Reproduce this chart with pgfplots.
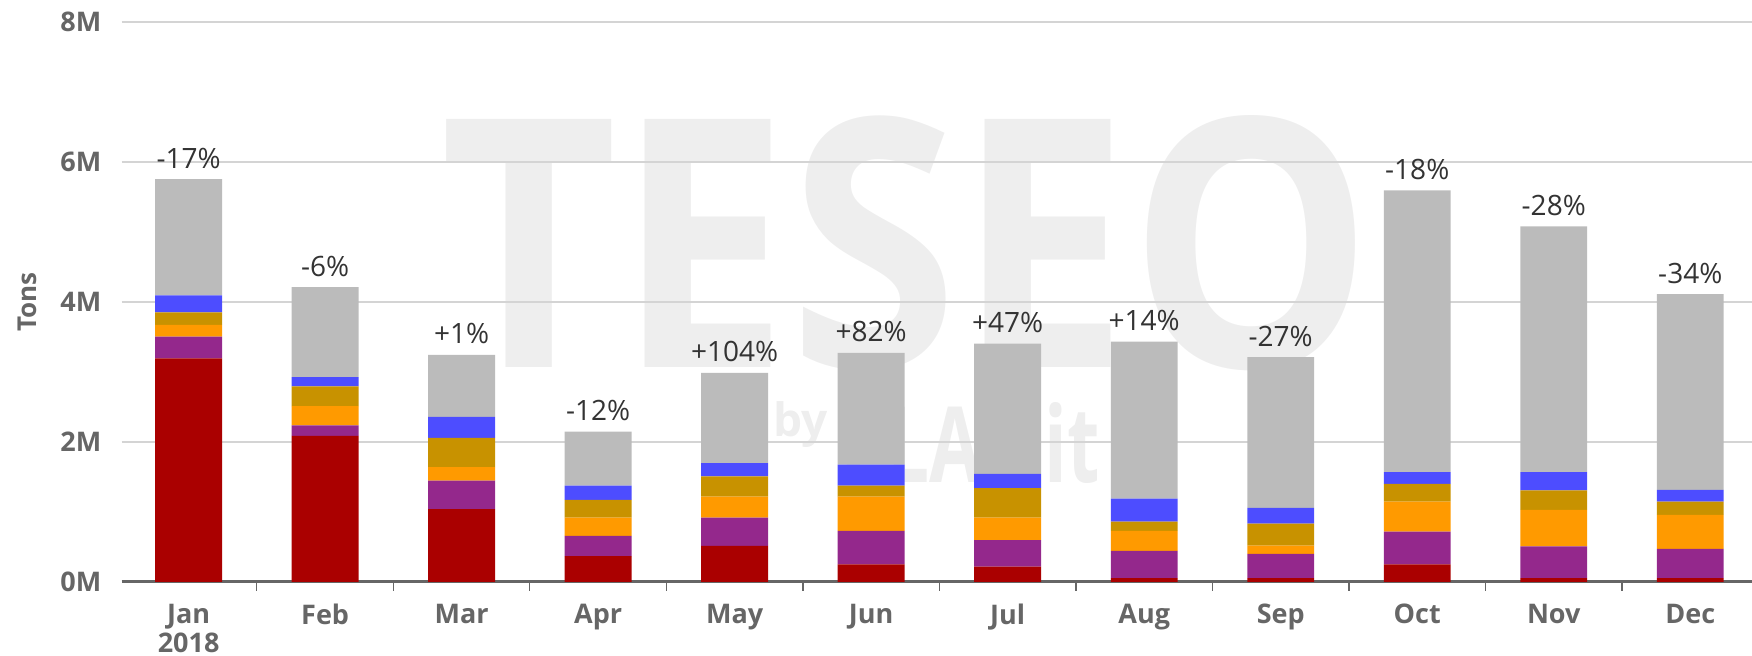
\documentclass[border=0pt]{standalone}
\usepackage{fontspec}
\setmainfont{Open Sans}
\usepackage{pgfplots}
\pgfplotsset{compat=1.18}
\definecolor{cRed}{HTML}{AA0000}
\definecolor{cPurple}{HTML}{94288C}
\definecolor{cOrange}{HTML}{FF9A00}
\definecolor{cGold}{HTML}{C89200}
\definecolor{cBlue}{HTML}{4D4DFF}
\definecolor{cGray}{HTML}{BBBBBB}
\definecolor{labelgray}{HTML}{666666}
\definecolor{gridgray}{HTML}{D4D4D4}
\definecolor{markgray}{HTML}{EEEEEE}

\begin{document}
\begin{tikzpicture}
% watermark, drawn first so grid and bars sit on top (axis box starts at 0,0)
\node[text=markgray, inner sep=0pt] at (392.5pt,169.4pt)
  {\resizebox{466pt}{126pt}{\bfseries TESEO}};
\node[text=markgray, inner sep=0pt, anchor=base west] at (325.6pt,72.5pt)
  {\bfseries\fontsize{23}{23}\selectfont by};
\node[text=markgray, inner sep=0pt, anchor=base west] at (359pt,49.5pt)
  {\resizebox{130pt}{40pt}{\bfseries CLAL.it}};
\begin{axis}[
  scale only axis, width=815pt, height=280pt,
  ybar stacked, bar width=0.49,
  xmin=-0.49, xmax=11.45, ymin=0, ymax=8,
  xtick={0,...,11},
  xticklabels={{Jan\\2018},Feb,Mar,Apr,May,Jun,Jul,Aug,Sep,Oct,Nov,Dec},
  xticklabel style={align=center, anchor=north, inner sep=0pt, yshift=-11pt,
    font=\bfseries\fontsize{13.5}{14.5}\selectfont, text=labelgray},
  major tick length=0pt,
  extra x ticks={0.5,1.5,...,10.5}, extra x tick labels={},
  extra x tick style={major tick length=4.5pt, tick align=outside,
    tick style={draw=labelgray, line width=0.6pt}},
  ytick={0,2,4,6,8},
  yticklabel={\pgfmathprintnumber{\tick}M},
  yticklabel style={anchor=east, inner sep=0pt, xshift=-10pt,
    font=\bfseries\fontsize{13.5}{14.5}\selectfont, text=labelgray},
  /pgf/number format/assume math mode=true,
  ymajorgrids, major grid style={draw=gridgray, line width=0.6pt},
  axis x line*=bottom, axis y line*=left,
  x axis line style={draw=labelgray, line width=1.5pt, -},
  y axis line style={draw=none},
  ylabel={Tons},
  ylabel style={at={([xshift=-47pt]rel axis cs:0,0.5)}, anchor=center,
    font=\bfseries\fontsize{13}{14}\selectfont, text=labelgray},
  every axis plot/.append style={draw=none},
  clip=false,
]
\addplot[fill=cRed] coordinates {(0,3.195) (1,2.088) (2,1.041) (3,0.371) (4,0.515) (5,0.251) (6,0.221) (7,0.054) (8,0.054) (9,0.251) (10,0.054) (11,0.054)};
\addplot[fill=cPurple] coordinates {(0,0.311) (1,0.150) (2,0.407) (3,0.287) (4,0.406) (5,0.479) (6,0.377) (7,0.389) (8,0.347) (9,0.467) (10,0.455) (11,0.419)};
\addplot[fill=cOrange] coordinates {(0,0.168) (1,0.275) (2,0.192) (3,0.263) (4,0.300) (5,0.491) (6,0.323) (7,0.287) (8,0.120) (9,0.431) (10,0.520) (11,0.484)};
\addplot[fill=cGold] coordinates {(0,0.179) (1,0.281) (2,0.418) (3,0.252) (4,0.287) (5,0.155) (6,0.419) (7,0.132) (8,0.311) (9,0.251) (10,0.281) (11,0.192)};
\addplot[fill=cBlue] coordinates {(0,0.240) (1,0.132) (2,0.300) (3,0.203) (4,0.191) (5,0.299) (6,0.204) (7,0.329) (8,0.227) (9,0.168) (10,0.258) (11,0.167)};
\addplot[fill=cGray] coordinates {(0,1.663) (1,1.286) (2,0.885) (3,0.772) (4,1.287) (5,1.598) (6,1.861) (7,2.244) (8,2.154) (9,4.027) (10,3.512) (11,2.795)};
% near-zero layer on top that carries the change labels
\addplot[fill=none, point meta=explicit symbolic, nodes near coords,
  every node near coord/.append style={anchor=base, inner sep=0pt, yshift=5.5pt,
    font=\fontsize{14}{16}\selectfont, text=black!80}]
  coordinates {(0,0.001)[-17\%] (1,0.001)[-6\%] (2,0.001)[+1\%] (3,0.001)[-12\%] (4,0.001)[+104\%] (5,0.001)[+82\%] (6,0.001)[+47\%] (7,0.001)[+14\%] (8,0.001)[-27\%] (9,0.001)[-18\%] (10,0.001)[-28\%] (11,0.001)[-34\%]};
\end{axis}
\pgfresetboundingbox
\path (-60.85pt,-37pt) rectangle (815.15pt,291pt);
\end{tikzpicture}
\end{document}
